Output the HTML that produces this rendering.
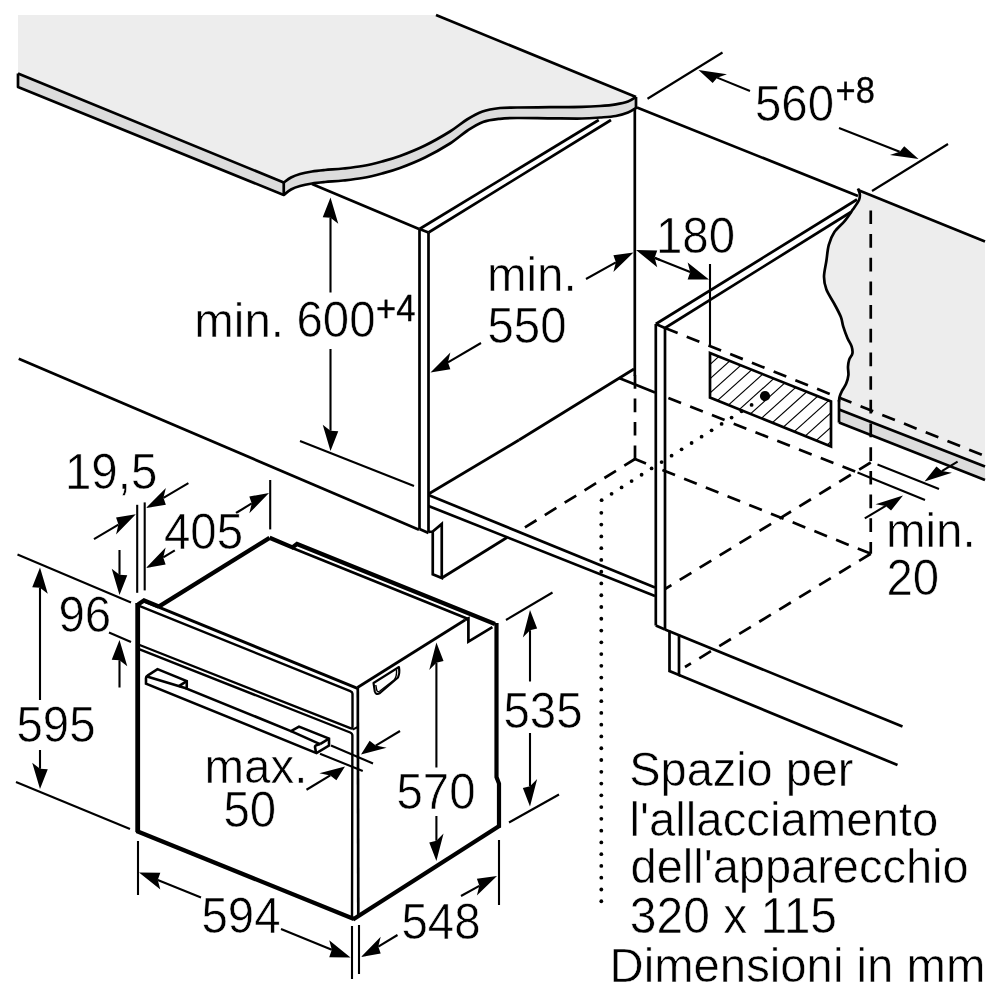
<!DOCTYPE html>
<html><head><meta charset="utf-8"><title>Schema di incasso</title>
<style>
html,body{margin:0;padding:0;background:#fff;width:1000px;height:1000px;}
svg{display:block;position:absolute;left:0;top:0;}
text{font-family:"Liberation Sans",sans-serif;fill:#000;stroke:#fff;stroke-width:0.55px;}
#txt{will-change:transform;filter:grayscale(1);}
</style></head><body>
<svg width="1000" height="1000" viewBox="0 0 1000 1000">
<rect width="1000" height="1000" fill="#fff"/>
<path d="M18,15 L436,15 L636,97 L636.00,97.00 C634.67,97.75 631.37,100.28 628.00,101.50 C624.63,102.72 620.47,103.55 615.80,104.30 C611.13,105.05 605.63,105.57 600.00,106.00 C594.37,106.43 590.33,106.70 582.00,106.90 C573.67,107.10 560.83,107.10 550.00,107.20 C539.17,107.30 525.33,107.37 517.00,107.50 C508.67,107.63 505.75,107.33 500.00,108.00 C494.25,108.67 488.00,109.58 482.50,111.50 C477.00,113.42 472.42,116.17 467.00,119.50 C461.58,122.83 457.00,127.17 450.00,131.50 C443.00,135.83 433.33,141.42 425.00,145.50 C416.67,149.58 407.17,153.33 400.00,156.00 C392.83,158.67 388.25,159.83 382.00,161.50 C375.75,163.17 369.00,164.83 362.50,166.00 C356.00,167.17 349.25,167.83 343.00,168.50 C336.75,169.17 330.17,169.50 325.00,170.00 C319.83,170.50 316.17,170.83 312.00,171.50 C307.83,172.17 303.50,173.00 300.00,174.00 C296.50,175.00 293.71,176.08 291.00,177.50 C288.29,178.92 284.96,181.67 283.75,182.50 L18,73.5 Z" fill="#ededed" stroke="none" stroke-width="0" />
<path d="M18,73.5 L283.75,182.50 C284.96,181.67 288.29,178.92 291.00,177.50 C293.71,176.08 296.50,175.00 300.00,174.00 C303.50,173.00 307.83,172.17 312.00,171.50 C316.17,170.83 319.83,170.50 325.00,170.00 C330.17,169.50 336.75,169.17 343.00,168.50 C349.25,167.83 356.00,167.17 362.50,166.00 C369.00,164.83 375.75,163.17 382.00,161.50 C388.25,159.83 392.83,158.67 400.00,156.00 C407.17,153.33 416.67,149.58 425.00,145.50 C433.33,141.42 443.00,135.83 450.00,131.50 C457.00,127.17 461.58,122.83 467.00,119.50 C472.42,116.17 477.00,113.42 482.50,111.50 C488.00,109.58 494.25,108.67 500.00,108.00 C505.75,107.33 508.67,107.63 517.00,107.50 C525.33,107.37 539.17,107.30 550.00,107.20 C560.83,107.10 573.67,107.10 582.00,106.90 C590.33,106.70 594.37,106.43 600.00,106.00 C605.63,105.57 611.13,105.05 615.80,104.30 C620.47,103.55 624.63,102.72 628.00,101.50 C631.37,100.28 634.67,97.75 636.00,97.00 L636,108 L636.00,108.00 C634.67,108.75 631.37,111.17 628.00,112.50 C624.63,113.83 620.47,115.17 615.80,116.00 C611.13,116.83 605.63,117.08 600.00,117.50 C594.37,117.92 590.33,118.37 582.00,118.50 C573.67,118.63 560.83,118.38 550.00,118.30 C539.17,118.22 525.33,117.92 517.00,118.00 C508.67,118.08 505.67,118.13 500.00,118.80 C494.33,119.47 488.40,120.05 483.00,122.00 C477.60,123.95 473.10,126.92 467.60,130.50 C462.10,134.08 457.10,139.00 450.00,143.50 C442.90,148.00 433.33,153.42 425.00,157.50 C416.67,161.58 407.17,165.33 400.00,168.00 C392.83,170.67 388.25,171.83 382.00,173.50 C375.75,175.17 369.00,176.83 362.50,178.00 C356.00,179.17 349.25,179.83 343.00,180.50 C336.75,181.17 330.17,181.50 325.00,182.00 C319.83,182.50 316.17,182.83 312.00,183.50 C307.83,184.17 303.50,185.00 300.00,186.00 C296.50,187.00 293.71,188.00 291.00,189.50 C288.29,191.00 284.96,194.08 283.75,195.00 L18,87 Z" fill="#dcdcdc" stroke="none" stroke-width="0" />
<path d="M436,15 L636,97" fill="none" stroke="#000" stroke-width="2.7" />
<path d="M18,73.5 L283.75,182.50 C284.96,181.67 288.29,178.92 291.00,177.50 C293.71,176.08 296.50,175.00 300.00,174.00 C303.50,173.00 307.83,172.17 312.00,171.50 C316.17,170.83 319.83,170.50 325.00,170.00 C330.17,169.50 336.75,169.17 343.00,168.50 C349.25,167.83 356.00,167.17 362.50,166.00 C369.00,164.83 375.75,163.17 382.00,161.50 C388.25,159.83 392.83,158.67 400.00,156.00 C407.17,153.33 416.67,149.58 425.00,145.50 C433.33,141.42 443.00,135.83 450.00,131.50 C457.00,127.17 461.58,122.83 467.00,119.50 C472.42,116.17 477.00,113.42 482.50,111.50 C488.00,109.58 494.25,108.67 500.00,108.00 C505.75,107.33 508.67,107.63 517.00,107.50 C525.33,107.37 539.17,107.30 550.00,107.20 C560.83,107.10 573.67,107.10 582.00,106.90 C590.33,106.70 594.37,106.43 600.00,106.00 C605.63,105.57 611.13,105.05 615.80,104.30 C620.47,103.55 624.63,102.72 628.00,101.50 C631.37,100.28 634.67,97.75 636.00,97.00" fill="none" stroke="#000" stroke-width="2.7" stroke-linejoin="round"/>
<path d="M18,73.5 L18,87 L283.75,195.00 C284.96,194.08 288.29,191.00 291.00,189.50 C293.71,188.00 296.50,187.00 300.00,186.00 C303.50,185.00 307.83,184.17 312.00,183.50 C316.17,182.83 319.83,182.50 325.00,182.00 C330.17,181.50 336.75,181.17 343.00,180.50 C349.25,179.83 356.00,179.17 362.50,178.00 C369.00,176.83 375.75,175.17 382.00,173.50 C388.25,171.83 392.83,170.67 400.00,168.00 C407.17,165.33 416.67,161.58 425.00,157.50 C433.33,153.42 442.90,148.00 450.00,143.50 C457.10,139.00 462.10,134.08 467.60,130.50 C473.10,126.92 477.60,123.95 483.00,122.00 C488.40,120.05 494.33,119.47 500.00,118.80 C505.67,118.13 508.67,118.08 517.00,118.00 C525.33,117.92 539.17,118.22 550.00,118.30 C560.83,118.38 573.67,118.63 582.00,118.50 C590.33,118.37 594.37,117.92 600.00,117.50 C605.63,117.08 611.13,116.83 615.80,116.00 C620.47,115.17 624.63,113.83 628.00,112.50 C631.37,111.17 634.67,108.75 636.00,108.00 L636,97" fill="none" stroke="#000" stroke-width="2.7" stroke-linejoin="round"/>
<line x1="283.75" y1="182.50" x2="283.75" y2="195.00" stroke="#000" stroke-width="2.7" />
<path d="M858.00,188.50 C858.30,189.42 859.63,192.08 859.80,194.00 C859.97,195.92 860.17,197.40 859.00,200.00 C857.83,202.60 855.17,206.13 852.80,209.60 C850.43,213.07 847.87,217.07 844.80,220.80 C841.73,224.53 837.07,228.00 834.40,232.00 C831.73,236.00 830.13,240.00 828.80,244.80 C827.47,249.60 827.20,255.47 826.40,260.80 C825.60,266.13 824.00,272.00 824.00,276.80 C824.00,281.60 824.67,285.07 826.40,289.60 C828.13,294.13 832.00,299.47 834.40,304.00 C836.80,308.53 839.33,313.07 840.80,316.80 C842.27,320.53 842.10,322.87 843.20,326.40 C844.30,329.93 846.00,334.67 847.40,338.00 C848.80,341.33 850.77,343.80 851.60,346.40 C852.43,349.00 852.80,351.40 852.40,353.60 C852.00,355.80 849.93,357.40 849.20,359.60 C848.47,361.80 848.13,364.20 848.00,366.80 C847.87,369.40 848.70,372.40 848.40,375.20 C848.10,378.00 847.27,381.00 846.20,383.60 C845.13,386.20 843.10,388.60 842.00,390.80 C840.90,393.00 840.10,395.00 839.60,396.80 C839.10,398.60 839.10,400.80 839.00,401.60 L839,409.5 L985,466.5 L985,241 L860,190 Z" fill="#ededed" stroke="none" stroke-width="0" />
<path d="M839,409.5 L985,466.5 L985,480 L839,422.6 Z" fill="#dcdcdc" stroke="none" stroke-width="0" />
<path d="M858.00,188.50 C858.30,189.42 859.63,192.08 859.80,194.00 C859.97,195.92 860.17,197.40 859.00,200.00 C857.83,202.60 855.17,206.13 852.80,209.60 C850.43,213.07 847.87,217.07 844.80,220.80 C841.73,224.53 837.07,228.00 834.40,232.00 C831.73,236.00 830.13,240.00 828.80,244.80 C827.47,249.60 827.20,255.47 826.40,260.80 C825.60,266.13 824.00,272.00 824.00,276.80 C824.00,281.60 824.67,285.07 826.40,289.60 C828.13,294.13 832.00,299.47 834.40,304.00 C836.80,308.53 839.33,313.07 840.80,316.80 C842.27,320.53 842.10,322.87 843.20,326.40 C844.30,329.93 846.00,334.67 847.40,338.00 C848.80,341.33 850.77,343.80 851.60,346.40 C852.43,349.00 852.80,351.40 852.40,353.60 C852.00,355.80 849.93,357.40 849.20,359.60 C848.47,361.80 848.13,364.20 848.00,366.80 C847.87,369.40 848.70,372.40 848.40,375.20 C848.10,378.00 847.27,381.00 846.20,383.60 C845.13,386.20 843.10,388.60 842.00,390.80 C840.90,393.00 840.10,395.00 839.60,396.80 C839.10,398.60 839.10,400.80 839.00,401.60" fill="none" stroke="#000" stroke-width="2.7" />
<line x1="858.00" y1="190.00" x2="985.00" y2="241.50" stroke="#000" stroke-width="2.7" />
<line x1="839.00" y1="400.00" x2="839.00" y2="422.60" stroke="#000" stroke-width="2.7" />
<line x1="839.00" y1="409.50" x2="985.00" y2="466.50" stroke="#000" stroke-width="2.7" />
<line x1="839.00" y1="422.60" x2="985.00" y2="480.00" stroke="#000" stroke-width="2.7" />
<line x1="637.00" y1="107.50" x2="858.00" y2="196.00" stroke="#000" stroke-width="2.7" />
<line x1="312.00" y1="184.00" x2="419.00" y2="229.00" stroke="#000" stroke-width="2.7" />
<line x1="419.50" y1="229.00" x2="419.50" y2="529.00" stroke="#000" stroke-width="2.7" />
<line x1="428.50" y1="232.50" x2="428.50" y2="532.00" stroke="#000" stroke-width="2.7" />
<line x1="419.50" y1="229.00" x2="428.50" y2="232.50" stroke="#000" stroke-width="2.7" />
<line x1="419.50" y1="529.00" x2="428.50" y2="533.00" stroke="#000" stroke-width="2.7" />
<line x1="419.50" y1="229.00" x2="598.75" y2="120.00" stroke="#000" stroke-width="2.7" />
<line x1="428.50" y1="232.50" x2="611.00" y2="120.00" stroke="#000" stroke-width="2.7" />
<line x1="634.80" y1="108.00" x2="634.80" y2="376.00" stroke="#000" stroke-width="2.7" />
<line x1="428.50" y1="494.00" x2="519.00" y2="440.00" stroke="#000" stroke-width="2.7" />
<line x1="519.00" y1="440.00" x2="634.00" y2="369.00" stroke="#000" stroke-width="2.7" />
<line x1="428.50" y1="495.00" x2="655.00" y2="587.50" stroke="#000" stroke-width="2.7" />
<line x1="428.50" y1="506.00" x2="655.00" y2="596.00" stroke="#000" stroke-width="2.7" />
<line x1="619.00" y1="378.00" x2="655.00" y2="392.50" stroke="#000" stroke-width="2.7" />
<path d="M428.50,532.00 L432.75,531.50 L441.75,524.00 L441.75,578.00 L432.75,574.25 L432.75,531.50" fill="none" stroke="#000" stroke-width="2.7" stroke-linejoin="miter" />
<line x1="441.75" y1="578.00" x2="507.00" y2="537.50" stroke="#000" stroke-width="2.7" />
<line x1="18.75" y1="358.75" x2="419.00" y2="529.70" stroke="#000" stroke-width="2.7" />
<line x1="300.00" y1="441.00" x2="414.00" y2="486.00" stroke="#000" stroke-width="2.1" />
<line x1="655.80" y1="324.00" x2="655.80" y2="625.50" stroke="#000" stroke-width="2.7" />
<line x1="665.00" y1="328.00" x2="665.00" y2="629.50" stroke="#000" stroke-width="2.7" />
<line x1="655.80" y1="324.00" x2="665.00" y2="328.00" stroke="#000" stroke-width="2.7" />
<line x1="655.80" y1="625.50" x2="665.00" y2="629.50" stroke="#000" stroke-width="2.7" />
<line x1="655.80" y1="324.00" x2="857.00" y2="199.50" stroke="#000" stroke-width="2.7" />
<line x1="665.00" y1="328.00" x2="851.00" y2="212.00" stroke="#000" stroke-width="2.7" />
<path d="M669.50,630.50 L669.50,671.00 L679.00,675.00 L679.00,634.50" fill="none" stroke="#000" stroke-width="2.7" stroke-linejoin="miter" />
<line x1="665.00" y1="629.50" x2="902.50" y2="726.50" stroke="#000" stroke-width="2.7" />
<line x1="679.00" y1="675.00" x2="897.50" y2="765.00" stroke="#000" stroke-width="2.7" />
<line x1="665.00" y1="328.00" x2="985.00" y2="456.00" stroke="#000" stroke-width="2.7" stroke-dasharray="13.6 9.8" stroke-dashoffset="0"/>
<line x1="668.40" y1="397.90" x2="857.50" y2="472.50" stroke="#000" stroke-width="2.7" stroke-dasharray="13.6 9.8" stroke-dashoffset="0"/>
<line x1="635.00" y1="459.00" x2="635.00" y2="367.50" stroke="#000" stroke-width="2.7" stroke-dasharray="13.6 9.8" stroke-dashoffset="0"/>
<line x1="635.00" y1="459.00" x2="524.00" y2="528.00" stroke="#000" stroke-width="2.7" stroke-dasharray="13.6 9.8" stroke-dashoffset="1"/>
<line x1="635.00" y1="459.00" x2="646.00" y2="463.40" stroke="#000" stroke-width="2.7" />
<line x1="662.40" y1="470.00" x2="870.75" y2="553.75" stroke="#000" stroke-width="2.7" stroke-dasharray="13.6 9.8" stroke-dashoffset="0"/>
<line x1="870.75" y1="210.40" x2="870.75" y2="553.75" stroke="#000" stroke-width="2.7" stroke-dasharray="13.7 9.98" stroke-dashoffset="0"/>
<line x1="870.75" y1="553.75" x2="685.00" y2="667.00" stroke="#000" stroke-width="2.7" stroke-dasharray="13.6 9.8" stroke-dashoffset="0"/>
<line x1="870.75" y1="462.50" x2="665.00" y2="589.00" stroke="#000" stroke-width="2.7" stroke-dasharray="13.6 9.8" stroke-dashoffset="0"/>
<line x1="877.50" y1="464.50" x2="939.00" y2="489.00" stroke="#000" stroke-width="2.1" />
<line x1="857.50" y1="472.50" x2="925.00" y2="500.00" stroke="#000" stroke-width="2.1" />
<line x1="957.60" y1="461.60" x2="941.81" y2="471.09" stroke="#000" stroke-width="2.1" />
<polygon points="924.50,481.50 951.98,472.84 941.81,471.09 936.44,466.46" fill="#000"/>
<line x1="864.80" y1="518.40" x2="885.67" y2="505.89" stroke="#000" stroke-width="2.1" />
<polygon points="903.00,495.50 891.04,510.52 885.67,505.89 875.50,504.13" fill="#000"/>
<clipPath id="hc"><polygon points="710,353 831,401.5 831,446.5 710,397.5"/></clipPath>
<g clip-path="url(#hc)">
<line x1="572.80" y1="402.12" x2="672.80" y2="312.12" stroke="#000" stroke-width="1.1" />
<line x1="583.80" y1="406.52" x2="683.80" y2="316.52" stroke="#000" stroke-width="1.1" />
<line x1="594.80" y1="410.92" x2="694.80" y2="320.92" stroke="#000" stroke-width="1.1" />
<line x1="605.80" y1="415.32" x2="705.80" y2="325.32" stroke="#000" stroke-width="1.1" />
<line x1="616.80" y1="419.72" x2="716.80" y2="329.72" stroke="#000" stroke-width="1.1" />
<line x1="627.80" y1="424.12" x2="727.80" y2="334.12" stroke="#000" stroke-width="1.1" />
<line x1="638.80" y1="428.52" x2="738.80" y2="338.52" stroke="#000" stroke-width="1.1" />
<line x1="649.80" y1="432.92" x2="749.80" y2="342.92" stroke="#000" stroke-width="1.1" />
<line x1="660.80" y1="437.32" x2="760.80" y2="347.32" stroke="#000" stroke-width="1.1" />
<line x1="671.80" y1="441.72" x2="771.80" y2="351.72" stroke="#000" stroke-width="1.1" />
<line x1="682.80" y1="446.12" x2="782.80" y2="356.12" stroke="#000" stroke-width="1.1" />
<line x1="693.80" y1="450.52" x2="793.80" y2="360.52" stroke="#000" stroke-width="1.1" />
<line x1="704.80" y1="454.92" x2="804.80" y2="364.92" stroke="#000" stroke-width="1.1" />
<line x1="715.80" y1="459.32" x2="815.80" y2="369.32" stroke="#000" stroke-width="1.1" />
<line x1="726.80" y1="463.72" x2="826.80" y2="373.72" stroke="#000" stroke-width="1.1" />
<line x1="737.80" y1="468.12" x2="837.80" y2="378.12" stroke="#000" stroke-width="1.1" />
<line x1="748.80" y1="472.52" x2="848.80" y2="382.52" stroke="#000" stroke-width="1.1" />
<line x1="759.80" y1="476.92" x2="859.80" y2="386.92" stroke="#000" stroke-width="1.1" />
<line x1="770.80" y1="481.32" x2="870.80" y2="391.32" stroke="#000" stroke-width="1.1" />
<line x1="781.80" y1="485.72" x2="881.80" y2="395.72" stroke="#000" stroke-width="1.1" />
<line x1="792.80" y1="490.12" x2="892.80" y2="400.12" stroke="#000" stroke-width="1.1" />
<line x1="803.80" y1="494.52" x2="903.80" y2="404.52" stroke="#000" stroke-width="1.1" />
</g>
<path d="M710.00,353.00 L831.00,401.50 L831.00,446.50 L710.00,397.50 Z" fill="none" stroke="#000" stroke-width="2.7" stroke-linejoin="miter" />
<line x1="710.00" y1="264.00" x2="710.00" y2="346.00" stroke="#000" stroke-width="2.1" />
<circle cx="765" cy="396" r="5.1" fill="#000"/>
<circle cx="751.60" cy="404.90" r="1.9" fill="#000"/>
<circle cx="741.60" cy="411.25" r="1.9" fill="#000"/>
<circle cx="731.60" cy="417.60" r="1.9" fill="#000"/>
<circle cx="721.60" cy="423.95" r="1.9" fill="#000"/>
<circle cx="711.60" cy="430.30" r="1.9" fill="#000"/>
<circle cx="701.60" cy="436.65" r="1.9" fill="#000"/>
<circle cx="691.60" cy="443.00" r="1.9" fill="#000"/>
<circle cx="681.60" cy="449.35" r="1.9" fill="#000"/>
<circle cx="671.60" cy="455.70" r="1.9" fill="#000"/>
<circle cx="661.60" cy="462.05" r="1.9" fill="#000"/>
<circle cx="651.60" cy="468.40" r="1.9" fill="#000"/>
<circle cx="641.60" cy="474.75" r="1.9" fill="#000"/>
<circle cx="631.60" cy="481.10" r="1.9" fill="#000"/>
<circle cx="621.60" cy="487.45" r="1.9" fill="#000"/>
<circle cx="611.60" cy="493.80" r="1.9" fill="#000"/>
<circle cx="601.60" cy="500.15" r="1.9" fill="#000"/>
<circle cx="601.3" cy="901.25" r="1.9" fill="#000"/>
<circle cx="601.3" cy="889.48" r="1.9" fill="#000"/>
<circle cx="601.3" cy="877.71" r="1.9" fill="#000"/>
<circle cx="601.3" cy="865.94" r="1.9" fill="#000"/>
<circle cx="601.3" cy="854.17" r="1.9" fill="#000"/>
<circle cx="601.3" cy="842.40" r="1.9" fill="#000"/>
<circle cx="601.3" cy="830.63" r="1.9" fill="#000"/>
<circle cx="601.3" cy="818.86" r="1.9" fill="#000"/>
<circle cx="601.3" cy="807.09" r="1.9" fill="#000"/>
<circle cx="601.3" cy="795.32" r="1.9" fill="#000"/>
<circle cx="601.3" cy="783.55" r="1.9" fill="#000"/>
<circle cx="601.3" cy="771.78" r="1.9" fill="#000"/>
<circle cx="601.3" cy="760.01" r="1.9" fill="#000"/>
<circle cx="601.3" cy="748.24" r="1.9" fill="#000"/>
<circle cx="601.3" cy="736.47" r="1.9" fill="#000"/>
<circle cx="601.3" cy="724.70" r="1.9" fill="#000"/>
<circle cx="601.3" cy="712.93" r="1.9" fill="#000"/>
<circle cx="601.3" cy="701.16" r="1.9" fill="#000"/>
<circle cx="601.3" cy="689.39" r="1.9" fill="#000"/>
<circle cx="601.3" cy="677.62" r="1.9" fill="#000"/>
<circle cx="601.3" cy="665.85" r="1.9" fill="#000"/>
<circle cx="601.3" cy="654.08" r="1.9" fill="#000"/>
<circle cx="601.3" cy="642.31" r="1.9" fill="#000"/>
<circle cx="601.3" cy="630.54" r="1.9" fill="#000"/>
<circle cx="601.3" cy="618.77" r="1.9" fill="#000"/>
<circle cx="601.3" cy="607.00" r="1.9" fill="#000"/>
<circle cx="601.3" cy="595.23" r="1.9" fill="#000"/>
<circle cx="601.3" cy="583.46" r="1.9" fill="#000"/>
<circle cx="601.3" cy="571.69" r="1.9" fill="#000"/>
<circle cx="601.3" cy="559.92" r="1.9" fill="#000"/>
<circle cx="601.3" cy="548.15" r="1.9" fill="#000"/>
<circle cx="601.3" cy="536.38" r="1.9" fill="#000"/>
<circle cx="601.3" cy="524.61" r="1.9" fill="#000"/>
<circle cx="601.3" cy="512.84" r="1.9" fill="#000"/>
<line x1="137.70" y1="603.00" x2="137.70" y2="832.00" stroke="#000" stroke-width="4.8" />
<line x1="136.50" y1="831.00" x2="354.00" y2="919.00" stroke="#000" stroke-width="4.3" />
<line x1="353.00" y1="919.50" x2="500.00" y2="825.50" stroke="#000" stroke-width="4.3" />
<line x1="357.80" y1="688.00" x2="358.30" y2="917.00" stroke="#000" stroke-width="2.7" />
<path d="M138.00,604.50 L144.00,600.50 L158.75,606.60" fill="none" stroke="#000" stroke-width="4.3" stroke-linejoin="miter" />
<line x1="158.75" y1="606.60" x2="269.60" y2="537.80" stroke="#000" stroke-width="4.3" />
<path d="M269.60,537.80 L292.40,547.40 L297.00,544.00 L495.00,624.00" fill="none" stroke="#000" stroke-width="4.3" stroke-linejoin="miter" />
<line x1="292.40" y1="548.00" x2="467.60" y2="618.80" stroke="#000" stroke-width="2.6" />
<path d="M496.50,623.00 L496.50,777.00 L499.00,783.60 L499.00,827.50" fill="none" stroke="#000" stroke-width="4.2" stroke-linejoin="miter" />
<line x1="357.50" y1="687.50" x2="465.00" y2="620.00" stroke="#000" stroke-width="2.7" />
<path d="M465.00,620.00 L468.40,618.40 L468.40,641.60 L492.40,627.20" fill="none" stroke="#000" stroke-width="2.7" stroke-linejoin="miter" />
<line x1="144.00" y1="601.20" x2="357.50" y2="688.40" stroke="#000" stroke-width="3.0" />
<path d="M138,605.4 L350.3,691.1 Q352.5,692 352.5,693.8 L352.5,726.8 Q352.5,729.2 350.3,728.2 L139,644.75" fill="none" stroke="#000" stroke-width="2.4" />
<path d="M139,649.2 L350.2,732.5 Q352.4,733.4 352.4,735.6 L352,919" fill="none" stroke="#000" stroke-width="2.4" />
<line x1="352.50" y1="729.60" x2="357.80" y2="727.00" stroke="#000" stroke-width="2.0" />
<g transform="translate(0 0.6)">
<path d="M146,683 L146,677.5 Q146,675.8 147.5,675 L157.5,668.5 L186.75,680.5 L186.75,688 L291,730.5 L299,726 L329,738 L329,745 L316.5,752.5 Z" fill="none" stroke="#000" stroke-width="2.6" />
<line x1="147.00" y1="676.00" x2="186.75" y2="688.00" stroke="#000" stroke-width="2.6" />
<line x1="178.50" y1="685.75" x2="186.75" y2="680.50" stroke="#000" stroke-width="2.6" />
<line x1="291.00" y1="730.50" x2="320.00" y2="743.50" stroke="#000" stroke-width="2.6" />
<line x1="320.00" y1="743.50" x2="329.00" y2="738.00" stroke="#000" stroke-width="2.6" />
<path d="M316,752 L315,746.5 Q315,745 317,744.5 L320,743.5" fill="none" stroke="#000" stroke-width="2.6" />
</g>
<path d="M373.5,683 L399,667 C399.6,670.5 399.3,674.5 398,677.5 L380,693 Q376,695.5 374.8,691.5 Z" fill="none" stroke="#000" stroke-width="2.1" stroke-linejoin="round"/>
<path d="M375.8,685 L376.7,690 Q377.4,692.6 379.9,691 L394,680 C396,678 396.8,674 396.5,669.8" fill="none" stroke="#000" stroke-width="1.4" />
<line x1="647.50" y1="98.75" x2="722.50" y2="52.50" stroke="#000" stroke-width="2.1" />
<line x1="872.00" y1="191.00" x2="948.00" y2="144.00" stroke="#000" stroke-width="2.1" />
<line x1="750.00" y1="91.00" x2="717.20" y2="77.63" stroke="#000" stroke-width="2.1" />
<polygon points="698.50,70.00 726.95,74.27 717.20,77.63 712.65,83.09" fill="#000"/>
<line x1="839.00" y1="128.00" x2="899.68" y2="151.66" stroke="#000" stroke-width="2.1" />
<polygon points="918.50,159.00 904.22,146.23 899.68,151.66 889.92,155.05" fill="#000"/>
<line x1="660.00" y1="260.00" x2="654.65" y2="257.77" stroke="#000" stroke-width="2.1" />
<polygon points="636.00,250.00 657.23,267.25 654.65,257.77 657.23,250.45" fill="#000"/>
<line x1="655.00" y1="258.00" x2="690.23" y2="272.03" stroke="#000" stroke-width="2.1" />
<polygon points="709.00,279.50 687.63,279.39 690.23,272.03 687.63,262.59" fill="#000"/>
<line x1="586.00" y1="279.00" x2="615.86" y2="262.34" stroke="#000" stroke-width="2.1" />
<polygon points="633.50,252.50 613.41,272.11 615.86,262.34 613.41,255.31" fill="#000"/>
<line x1="481.00" y1="343.00" x2="447.94" y2="362.31" stroke="#000" stroke-width="2.1" />
<polygon points="430.50,372.50 450.36,369.30 447.94,362.31 450.36,352.50" fill="#000"/>
<line x1="330.50" y1="292.50" x2="330.50" y2="217.70" stroke="#000" stroke-width="2.1" />
<polygon points="330.50,197.50 338.27,223.69 330.50,217.70 322.73,217.31" fill="#000"/>
<line x1="330.50" y1="349.00" x2="330.50" y2="430.80" stroke="#000" stroke-width="2.1" />
<polygon points="330.50,451.00 338.27,431.19 330.50,430.80 322.73,424.81" fill="#000"/>
<line x1="137.20" y1="504.80" x2="137.20" y2="592.80" stroke="#000" stroke-width="2.1" />
<line x1="144.70" y1="502.40" x2="144.70" y2="590.40" stroke="#000" stroke-width="2.1" />
<line x1="94.00" y1="539.20" x2="118.46" y2="524.57" stroke="#000" stroke-width="2.1" />
<polygon points="135.80,514.20 116.06,534.41 118.46,524.57 116.06,517.61" fill="#000"/>
<line x1="188.40" y1="483.20" x2="163.44" y2="497.80" stroke="#000" stroke-width="2.1" />
<polygon points="146.00,508.00 165.85,504.79 163.44,497.80 165.85,487.99" fill="#000"/>
<line x1="174.80" y1="550.40" x2="163.24" y2="557.47" stroke="#000" stroke-width="2.1" />
<polygon points="146.00,568.00 165.63,564.41 163.24,557.47 165.63,547.61" fill="#000"/>
<line x1="270.20" y1="480.00" x2="270.20" y2="529.40" stroke="#000" stroke-width="2.1" />
<line x1="236.00" y1="513.00" x2="251.73" y2="503.47" stroke="#000" stroke-width="2.1" />
<polygon points="269.00,493.00 249.33,513.32 251.73,503.47 249.33,496.52" fill="#000"/>
<line x1="17.50" y1="554.50" x2="131.00" y2="602.50" stroke="#000" stroke-width="2.1" />
<line x1="109.00" y1="632.50" x2="131.00" y2="642.00" stroke="#000" stroke-width="2.1" />
<line x1="119.50" y1="550.00" x2="119.50" y2="574.80" stroke="#000" stroke-width="2.1" />
<polygon points="119.50,595.00 127.27,575.19 119.50,574.80 111.73,568.81" fill="#000"/>
<line x1="119.50" y1="687.50" x2="119.50" y2="660.20" stroke="#000" stroke-width="2.1" />
<polygon points="119.50,640.00 127.27,666.19 119.50,660.20 111.73,659.81" fill="#000"/>
<line x1="40.00" y1="700.00" x2="40.00" y2="587.70" stroke="#000" stroke-width="2.1" />
<polygon points="40.00,567.50 47.77,593.69 40.00,587.70 32.23,587.31" fill="#000"/>
<line x1="40.00" y1="750.00" x2="40.00" y2="768.80" stroke="#000" stroke-width="2.1" />
<polygon points="40.00,789.00 47.77,769.19 40.00,768.80 32.23,762.81" fill="#000"/>
<line x1="16.00" y1="782.00" x2="130.00" y2="829.00" stroke="#000" stroke-width="2.1" />
<line x1="138.00" y1="841.00" x2="138.00" y2="895.00" stroke="#000" stroke-width="2.1" />
<line x1="201.00" y1="897.50" x2="157.73" y2="880.05" stroke="#000" stroke-width="2.1" />
<polygon points="139.00,872.50 160.33,889.50 157.73,880.05 160.33,872.70" fill="#000"/>
<line x1="352.00" y1="926.00" x2="352.00" y2="979.00" stroke="#000" stroke-width="2.1" />
<line x1="359.00" y1="925.00" x2="359.00" y2="974.00" stroke="#000" stroke-width="2.1" />
<line x1="281.00" y1="929.00" x2="331.81" y2="949.84" stroke="#000" stroke-width="2.1" />
<polygon points="350.50,957.50 329.22,957.17 331.81,949.84 329.22,940.37" fill="#000"/>
<line x1="397.50" y1="935.00" x2="378.30" y2="946.57" stroke="#000" stroke-width="2.1" />
<polygon points="361.00,957.00 380.70,953.53 378.30,946.57 380.70,936.73" fill="#000"/>
<line x1="461.00" y1="896.00" x2="479.34" y2="885.81" stroke="#000" stroke-width="2.1" />
<polygon points="497.00,876.00 476.89,895.57 479.34,885.81 476.89,878.77" fill="#000"/>
<line x1="499.00" y1="840.00" x2="499.00" y2="905.00" stroke="#000" stroke-width="2.1" />
<line x1="436.40" y1="767.50" x2="436.40" y2="662.70" stroke="#000" stroke-width="2.1" />
<polygon points="436.40,642.50 443.55,661.09 436.40,662.70 429.25,669.91" fill="#000"/>
<line x1="436.40" y1="816.00" x2="436.40" y2="840.80" stroke="#000" stroke-width="2.1" />
<polygon points="436.40,861.00 443.55,833.59 436.40,840.80 429.25,842.41" fill="#000"/>
<line x1="506.00" y1="620.00" x2="552.50" y2="592.50" stroke="#000" stroke-width="2.1" />
<line x1="530.00" y1="681.50" x2="530.00" y2="630.20" stroke="#000" stroke-width="2.1" />
<polygon points="530.00,610.00 537.15,628.59 530.00,630.20 522.85,637.41" fill="#000"/>
<line x1="530.00" y1="733.00" x2="530.00" y2="786.30" stroke="#000" stroke-width="2.1" />
<polygon points="530.00,806.50 537.15,779.09 530.00,786.30 522.85,787.91" fill="#000"/>
<line x1="509.00" y1="822.50" x2="559.00" y2="794.50" stroke="#000" stroke-width="2.1" />
<line x1="331.00" y1="745.50" x2="373.00" y2="763.50" stroke="#000" stroke-width="2.1" />
<line x1="320.00" y1="753.75" x2="362.75" y2="771.00" stroke="#000" stroke-width="2.1" />
<line x1="306.50" y1="789.75" x2="330.28" y2="775.39" stroke="#000" stroke-width="2.1" />
<polygon points="345.00,766.50 336.39,780.33 330.28,775.39 319.37,773.34" fill="#000"/>
<line x1="400.00" y1="731.00" x2="375.73" y2="745.62" stroke="#000" stroke-width="2.1" />
<polygon points="361.00,754.50 386.64,747.67 375.73,745.62 369.62,740.68" fill="#000"/>
<g id="txt">
<text transform="translate(755 121.3) scale(1 1.045)" font-size="47.4" >560</text>
<text transform="translate(835.5 103) scale(1 1.045)" font-size="34.5" style="stroke:#000;stroke-width:0.3px">+8</text>
<text transform="translate(656 253) scale(1 1.045)" font-size="47.4" >180</text>
<text transform="translate(487 290.8) scale(1 1.0)" font-size="47.5" >min.</text>
<text transform="translate(487.5 342.7) scale(1 1.045)" font-size="47.4" >550</text>
<text transform="translate(194.3 337) scale(1 1.0)" font-size="47.5" >min.</text>
<text transform="translate(296.5 337.3) scale(1 1.045)" font-size="47.4" >600</text>
<text transform="translate(376 320.5) scale(1 1.045)" font-size="34.5" style="stroke:#000;stroke-width:0.3px">+4</text>
<text transform="translate(65 489) scale(1 1.045)" font-size="47.4" >19,5</text>
<text transform="translate(164 549.4) scale(1 1.045)" font-size="47.4" >405</text>
<text transform="translate(58.5 632.2) scale(1 1.045)" font-size="47.4" >96</text>
<text transform="translate(16.5 742.3) scale(1 1.045)" font-size="47.4" >595</text>
<text transform="translate(204.5 782.5) scale(1 1.0)" font-size="47.5" >max.</text>
<text transform="translate(223.5 826.8) scale(1 1.045)" font-size="47.4" >50</text>
<text transform="translate(201.5 932.8) scale(1 1.045)" font-size="47.4" >594</text>
<text transform="translate(401.5 939.1) scale(1 1.045)" font-size="47.4" >548</text>
<text transform="translate(396.5 809.1) scale(1 1.045)" font-size="47.4" >570</text>
<text transform="translate(503.5 727.5) scale(1 1.045)" font-size="47.4" >535</text>
<text transform="translate(886 547) scale(1 1.0)" font-size="47.5" >min.</text>
<text transform="translate(886.5 595) scale(1 1.045)" font-size="47.4" >20</text>
<text transform="translate(629.3 785.7) scale(1 1.02)" font-size="46.9" >Spazio per</text>
<text transform="translate(629.5 835.7) scale(1 1.02)" font-size="47.3" >l'allacciamento</text>
<text transform="translate(630.5 883) scale(1 1.02)" font-size="47.0" >dell'apparecchio</text>
<text transform="translate(629.8 932.8) scale(1 1.045)" font-size="48.0" >320 x 115</text>
<text transform="translate(609.5 982.3) scale(1 1.02)" font-size="47.3" >Dimensioni in mm</text>
</g>
</svg>
</body></html>
